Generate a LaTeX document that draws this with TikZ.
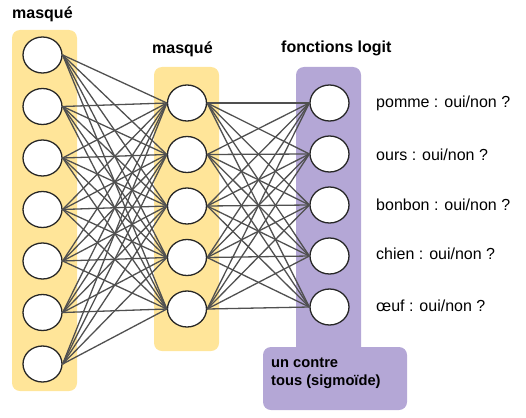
\documentclass[tikz,border=0pt]{standalone}
\usepackage{fontspec}
\setmainfont{Liberation Sans}
\usepackage{tikz}
\usetikzlibrary{shapes.geometric}
\definecolor{masque}{HTML}{FFE599}
\definecolor{logit}{HTML}{B4A7D6}
\definecolor{lien}{HTML}{505050}

\begin{document}
\begin{tikzpicture}[x=1pt, y=-1pt,
  neurone/.style={ellipse, draw=black!85, line width=1.3pt, fill=white, minimum width=39pt, minimum height=36pt, inner sep=0pt},
  couche/.style={rounded corners=8pt},
  titre/.style={font=\fontsize{16}{19}\selectfont\bfseries, inner sep=0pt},
  sortie/.style={font=\fontsize{16}{19}\selectfont, anchor=west, inner sep=0pt},
  lien/.style={draw=lien, line width=1.3pt}
  ]
  \useasboundingbox (0,0) rectangle (526,417);
  % fonds des couches
  \fill[masque, couche] (12,30) rectangle (77,391);
  \fill[masque, couche] (154,67) rectangle (219,351);
  \fill[logit, couche] (296,67) rectangle (361,360);
  \fill[logit, couche] (263,347) rectangle (407,410);
  % neurones
  \foreach \i in {1,...,7}
    \node[neurone] (l\i) at (42.5, {55+51.5*(\i-1)}) {};
  \foreach \i in {1,...,5}
    \node[neurone] (m\i) at (187, {103+51.5*(\i-1)}) {};
  \foreach \i in {1,...,5}
    \node[neurone] (o\i) at (329.5, {103+51*(\i-1)}) {};
  % liens
  \foreach \i in {1,...,7}
    \foreach \j in {1,...,5}
      \path[lien] (l\i.east) -- (m\j.west);
  \foreach \i in {1,...,5}
    \foreach \j in {1,...,5}
      \path[lien] (m\i.east) -- (o\j.west);
  % textes
  \node[titre, anchor=west] (t1) at (12,14) {masqué};
  \node[titre, anchor=west] (t2) at (152,49) {masqué};
  \node[titre, anchor=west] (t3) at (281,48) {fonctions logit};
  \node[titre, anchor=north west, align=left, font=\fontsize{14.7}{18}\selectfont\bfseries] (t4) at (271,358) {un contre\\tous (sigmoïde)};
  \node[sortie] (s1) at (376,103) {pomme : oui/non ?};
  \node[sortie] (s2) at (376,155) {ours : oui/non ?};
  \node[sortie] (s3) at (376,205) {bonbon : oui/non ?};
  \node[sortie] (s4) at (376,254) {chien : oui/non ?};
  \node[sortie] (s5) at (376,306) {œuf : oui/non ?};
\end{tikzpicture}
\end{document}
